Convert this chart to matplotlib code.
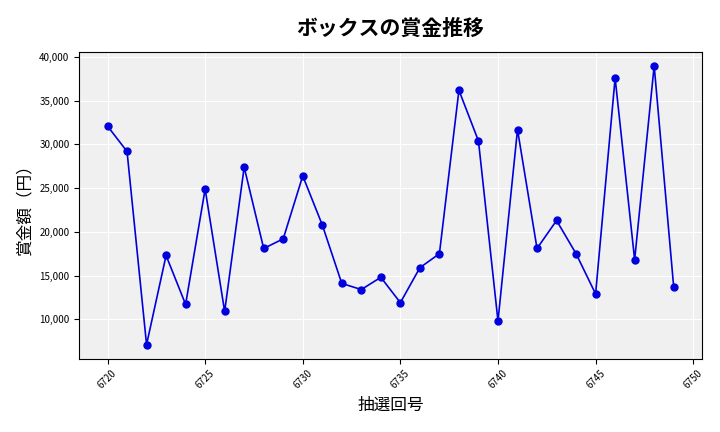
import matplotlib
matplotlib.use("Agg")
import matplotlib.pyplot as plt
from matplotlib.ticker import FuncFormatter

plt.rcParams['font.family'] = ['Noto Sans CJK JP', 'DejaVu Sans']

draws = list(range(6720, 6750))
prizes = [32100, 29200, 7100, 17300, 11700, 24900, 10900, 27400, 18100, 19200,
          26400, 20800, 14100, 13400, 14800, 11900, 15900, 17500, 36200, 30400,
          9800, 31700, 18100, 21300, 17500, 12900, 37600, 16800, 39000, 13700]

fig, ax = plt.subplots(figsize=(7.2, 4.32), dpi=100)
ax.set_facecolor('#f0f0f0')
ax.grid(True, color='white', linewidth=0.8)
ax.set_axisbelow(True)
ax.plot(draws, prizes, color='#0000dd', marker='o', markersize=5, linewidth=1.2)
ax.set_title('ボックスの賞金推移', fontsize=15, fontweight='bold', pad=12)
ax.set_xlabel('抽選回号', fontsize=12)
ax.set_ylabel('賞金額（円）', fontsize=12)
ax.yaxis.set_major_formatter(FuncFormatter(lambda v, p: f'{int(v):,}'))
ax.tick_params(axis='x', labelrotation=45, labelsize=7)
ax.tick_params(axis='y', labelsize=7)
ax.set_xticks(range(6720, 6751, 5))
fig.subplots_adjust(left=0.11, right=0.975, top=0.88, bottom=0.17)
fig.savefig('out.png')
